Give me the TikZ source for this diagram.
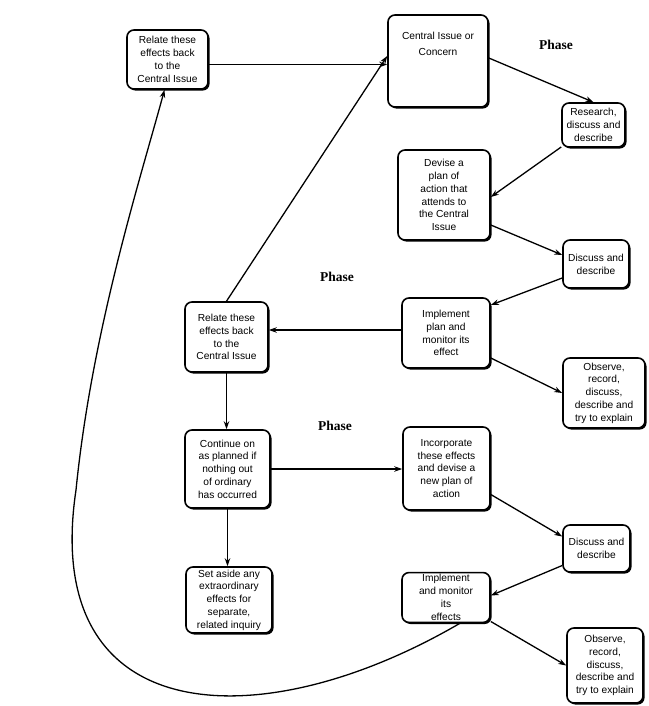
\documentclass[tikz,border=0pt]{standalone}
\usepackage{fontspec}
\setmainfont{Liberation Sans}
\newfontfamily\phasefont{Liberation Serif}
\usetikzlibrary{arrows.meta,shadows}
\begin{document}
\begin{tikzpicture}[x=1pt,y=-1pt,
  box/.style={draw=black, fill=white, line width=1.6pt, rounded corners=7pt,
    drop shadow={shadow xshift=1.6pt, shadow yshift=-1.6pt, fill=black, opacity=1},
    align=center, inner sep=2pt,
    font=\fontsize{10.2}{12.8}\selectfont},
  txt/.style={align=center, inner sep=0pt, font=\fontsize{10.2}{16.5}\selectfont},
  phase/.style={font=\phasefont\bfseries\fontsize{13.5}{14}\selectfont, inner sep=0pt},
  arr/.style={line width=1.3pt, -{Stealth[length=8pt,width=5.5pt]}},
  link/.style={line width=1.3pt}]
\useasboundingbox (0,0) rectangle (648,706);

% boxes of the inquiry cycle
\node[box, minimum width=81pt, minimum height=59pt] (A) at (167.5,59.5)
  {Relate these\\effects back\\to the\\Central Issue};
\node[box, minimum width=100pt, minimum height=92pt] (B) at (438,61) {};
\node[txt] (Btext) at (438,44) {Central Issue or\\Concern};
\node[box, minimum width=63pt, minimum height=44pt] (C) at (593.5,125)
  {Research,\\discuss and\\describe};
\node[box, minimum width=92pt, minimum height=90pt] (D) at (444,195)
  {Devise a\\plan of\\action that\\attends to\\the Central\\Issue};
\node[box, minimum width=66pt, minimum height=48pt] (E) at (596,264)
  {Discuss and\\describe};
\node[box, minimum width=83pt, minimum height=70pt] (F) at (226.5,337)
  {Relate these\\effects back\\to the\\Central Issue};
\node[box, minimum width=88pt, minimum height=70pt] (G) at (446,333)
  {Implement\\plan and\\monitor its\\effect};
\node[box, minimum width=82pt, minimum height=70pt] (H) at (604,393)
  {Observe,\\record,\\discuss,\\describe and\\try to explain};
\node[box, minimum width=85pt, minimum height=78pt] (I) at (227.5,469)
  {Continue on\\as planned if\\nothing out\\of ordinary\\has occurred};
\node[box, minimum width=87pt, minimum height=83pt] (J) at (446.5,468.5)
  {Incorporate\\these effects\\and devise a\\new plan of\\action};
\node[box, minimum width=67pt, minimum height=47pt] (K) at (596.5,548.5)
  {Discuss and\\describe};
\node[box, minimum width=86pt, minimum height=66pt] (L) at (229,600)
  {Set aside any\\extraordinary\\effects for\\separate,\\related inquiry};
\node[box, minimum width=88pt, minimum height=49pt] (M) at (446,597.5)
  {Implement\\and monitor\\its\\effects};
\node[box, minimum width=76pt, minimum height=75pt] (N) at (605,665.5)
  {Observe,\\record,\\discuss,\\describe and\\try to explain};

% phase labels
\node[phase] (P1) at (556,45) {Phase};
\node[phase] (P2) at (337,277) {Phase};
\node[phase] (P3) at (335,426) {Phase};

% connectors
\draw[arr] ([yshift=-5pt]A.east) -- ([yshift=-5pt]A.east -| B.west);
\draw[arr] (F.north) -- ([yshift=5pt]B.west);
\draw[arr] ([yshift=3pt]B.east) -- (C.north);
\draw[arr] ([yshift=-22pt]C.west) -- ([yshift=-2pt]D.east);
\draw[arr] ([yshift=-30pt]D.east) -- ([yshift=9pt]E.west);
\draw[arr] ([yshift=-14pt]E.west) -- ([yshift=28pt]G.east);
\draw[arr] ([yshift=3pt]G.west) -- ([yshift=3pt]G.west -| F.east);
\draw[arr] ([yshift=-25pt]G.east) -- (H.west);
\draw[arr] (F.south) -- (F.south |- I.north);
\draw[arr] (I.east) -- (I.east -| J.west);
\draw[arr] (I.south) -- (I.south |- L.north);
\draw[arr] ([yshift=-26pt]J.east) -- ([yshift=12pt]K.west);
\draw[arr] ([yshift=-17pt]K.west) -- ([yshift=2pt]M.east);
\draw[arr] ([yshift=-24pt]M.east) -- (N.west);

% return loop to the first box
\coordinate (bend) at (76,490);
\draw[arr] ([xshift=14pt]M.south) .. controls (260,740) and (40,730) .. (bend)
  .. controls (92,330) and (140,180) .. ([xshift=-3pt]A.south);
\end{tikzpicture}
\end{document}
